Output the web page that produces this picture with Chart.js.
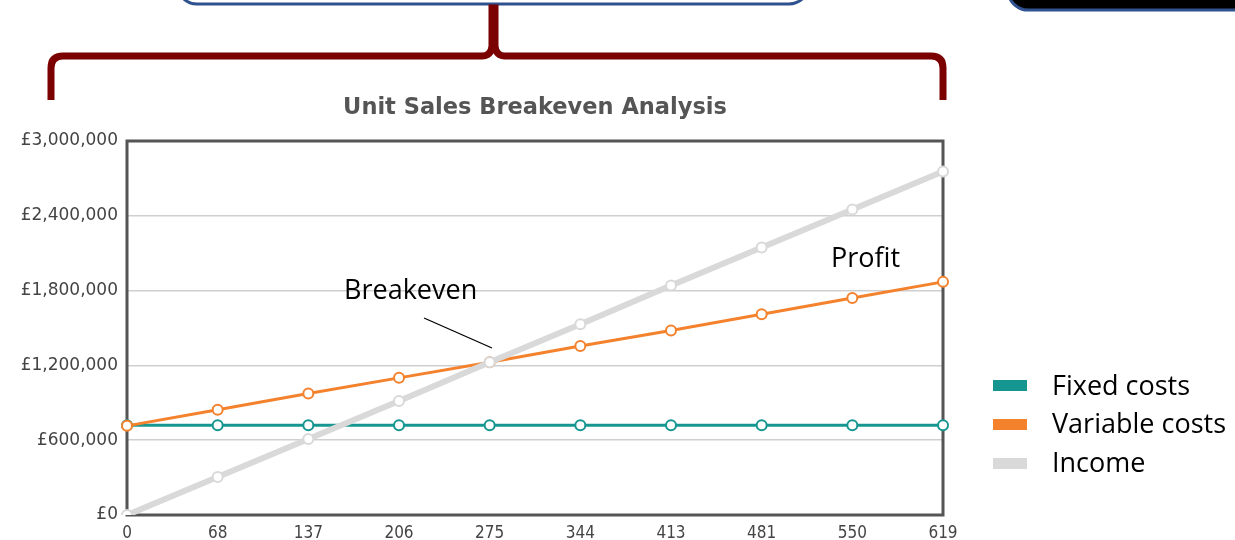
<!DOCTYPE html>
<html>
<head>
<meta charset="utf-8">
<script src="https://cdn.jsdelivr.net/npm/chart.js@4"></script>
<style>
  html, body { margin: 0; padding: 0; background: #fff; }
  #wrap { position: relative; width: 1235px; height: 540px; overflow: hidden; }
  #chart { position: absolute; left: 0; top: 0; }
  #deco { position: absolute; left: 0; top: 0; }
  .note, .leg { position: absolute; font-family: "Open Sans", sans-serif; font-size: 27px; color: #000; line-height: 1; white-space: nowrap; }
  .sw { position: absolute; width: 34px; height: 11px; }
</style>
</head>
<body>
<div id="wrap">
  <svg id="deco" width="1235" height="540">
    <!-- boxes cut off at the top -->
    <rect x="177" y="-40" width="632" height="44" rx="20" fill="#fff" stroke="#2f528f" stroke-width="3"/>
    <rect x="1008" y="-40" width="260" height="50" rx="20" fill="#000" stroke="#2f528f" stroke-width="3"/>
    <!-- brace -->
    <path d="M51 100 L51 68 Q51 56 63 56 L482 56 Q491 56 492 46 L492 8 L495 8 L495 46 Q496 56 505 56 L931 56 Q943 56 943 68 L943 100"
          fill="none" stroke="#7b0000" stroke-width="7"/>
    <!-- leader line -->
    <line x1="424" y1="318" x2="492" y2="348" stroke="#000" stroke-width="1.3"/>
  </svg>
  <canvas id="chart" width="1235" height="540"></canvas>
  <div class="note" style="left:344px;top:275px;">Breakeven</div>
  <div class="note" style="left:831px;top:243px;">Profit</div>
  <div class="sw" style="left:993px;top:380px;background:#169690;"></div>
  <div class="leg" style="left:1052px;top:371px;">Fixed costs</div>
  <div class="sw" style="left:993px;top:419px;background:#f4822d;"></div>
  <div class="leg" style="left:1052px;top:409px;">Variable costs</div>
  <div class="sw" style="left:993px;top:458px;background:#d9d9d9;"></div>
  <div class="leg" style="left:1052px;top:448px;">Income</div>
</div>
<script>
// unit sales (x axis categories)
const units = ["0", "68", "137", "206", "275", "344", "413", "481", "550", "619"];
const fixedCosts = [720000, 720000, 720000, 720000, 720000, 720000, 720000, 720000, 720000, 720000];
const variableCosts = [715000, 845000, 975000, 1100000, 1225000, 1355000, 1480000, 1610000, 1740000, 1870000];
const income = [0, 305000, 610000, 915000, 1225000, 1530000, 1840000, 2145000, 2450000, 2755000];
const seriesNames = ["Fixed costs", "Variable costs", "Income"];

// frame round the plot area
const frame = {
  id: "frame",
  beforeDatasetsDraw(chart) {
    const a = chart.chartArea;
    const ctx = chart.ctx;
    ctx.save();
    ctx.strokeStyle = "#555";
    ctx.lineWidth = 3;
    ctx.strokeRect(a.left, a.top, a.right - a.left, a.bottom - a.top);
    ctx.restore();
  },
};

new Chart(document.getElementById("chart").getContext("2d"), {
  type: "line",
  data: {
    labels: units,
    datasets: [
      {
        label: seriesNames[0],
        data: fixedCosts,
        borderColor: "#169690",
        borderWidth: 3,
        pointBackgroundColor: "#fff",
        pointBorderColor: "#169690",
        pointBorderWidth: 2,
        pointRadius: 5,
        order: 3,
      },
      {
        label: seriesNames[1],
        data: variableCosts,
        borderColor: "#f4822d",
        borderWidth: 3,
        pointBackgroundColor: "#fff",
        pointBorderColor: "#f4822d",
        pointBorderWidth: 2,
        pointRadius: 5,
        order: 2,
      },
      {
        label: seriesNames[2],
        data: income,
        borderColor: "#d9d9d9",
        borderWidth: 6,
        pointBackgroundColor: "#fff",
        pointBorderColor: "#d9d9d9",
        pointBorderWidth: 2,
        pointRadius: 5,
        order: 1,
      },
    ],
  },
  options: {
    responsive: false,
    animation: false,
    layout: { padding: { top: 95, right: 165, bottom: 0, left: 0 } },
    plugins: {
      legend: { display: false },
      tooltip: { enabled: false },
      title: {
        display: true,
        text: "Unit Sales Breakeven Analysis",
        color: "#555",
        font: { family: "DejaVu Sans", size: 22.5, weight: "bold" },
        padding: { top: 0, bottom: 19 },
      },
    },
    scales: {
      x: {
        type: "category",
        offset: false,
        grid: { display: false },
        border: { display: false },
        ticks: {
          color: "#444",
          font: { family: "DejaVu Sans Condensed, DejaVu Sans", size: 17 },
          padding: 0,
          maxRotation: 0,
          autoSkip: false,
        },
        afterFit(scale) { scale.height = 25; },
      },
      y: {
        min: 0,
        max: 3000000,
        grid: { color: "#cfcfcf", drawTicks: false, lineWidth: 1.5 },
        border: { display: false },
        ticks: {
          stepSize: 600000,
          color: "#444",
          font: { family: "DejaVu Sans", size: 17 },
          padding: 9,
          callback: (v) => "£" + v.toLocaleString("en-GB"),
        },
        afterFit(scale) { scale.width = 127; },
      },
      // empty right axis, only balances the left one so the title sits over the plot
      yRight: {
        position: "right",
        min: 0,
        max: 3000000,
        grid: { display: false },
        border: { display: false },
        ticks: { display: false },
        afterFit(scale) { scale.width = 127; },
      },
    },
  },
  plugins: [frame],
});
</script>
</body>
</html>
